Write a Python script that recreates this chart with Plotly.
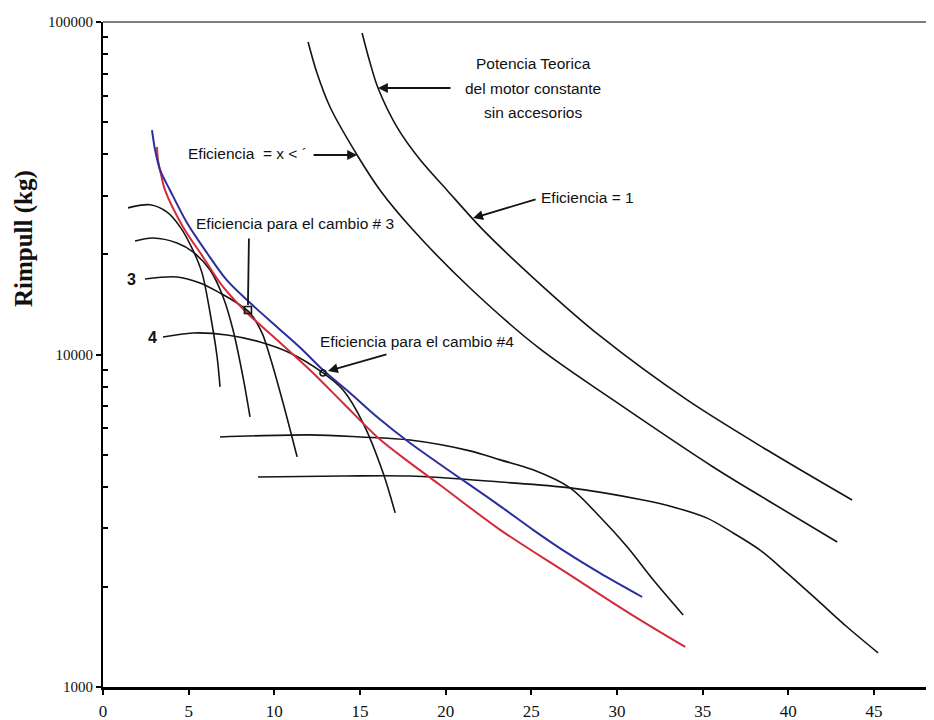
import plotly.graph_objects as go

# ---------------- data ----------------
# Theoretical constant-power curve (Eficiencia = 1)
ef1_x = [15.12, 15.59, 16.05, 17.16, 18.51, 20.08, 22.18, 25.51, 29.01, 34.09, 38.76, 43.72]
ef1_y = [92700, 75300, 63300, 48300, 38500, 31200, 23700, 16290, 11370, 7300, 5160, 3650]

# Curve with efficiency x < 1
efx_x = [11.97, 12.49, 13.25, 14.83, 16.17, 18.10, 21.42, 25.51, 29.77, 35.61, 38.76, 42.85]
efx_y = [87100, 70200, 55500, 39800, 31200, 23680, 15850, 10390, 7300, 4588, 3651, 2730]

# Blue envelope
blue_x = [2.86, 3.04, 3.33, 3.91, 4.90, 6.07, 7.24, 8.58, 10.16, 11.50, 12.84, 14.42, 16.00, 17.92, 23.18, 25.10, 27.09, 29.01, 31.47]
blue_y = [47300, 41200, 35900, 31200, 24900, 20200, 16700, 14300, 12100, 10500, 8980, 7660, 6490, 5420, 3500, 2970, 2530, 2200, 1865]

# Red envelope
red_x = [3.15, 3.21, 3.39, 3.62, 4.67, 5.84, 7.01, 8.41, 10.16, 12.08, 14.01, 16.00, 17.92, 19.67, 23.18, 27.09, 30.94, 33.98]
red_y = [42100, 38500, 34700, 31200, 24200, 19650, 15960, 13330, 11060, 8980, 7150, 5650, 4720, 4050, 2970, 2200, 1640, 1320]

# Gear rimpull curves
g1_x = [1.46, 2.74, 3.74, 4.50, 5.25, 5.78, 6.25, 6.66, 6.83]
g1_y = [27600, 28200, 26800, 24200, 20600, 17600, 13330, 9830, 7990]

g2_x = [1.87, 2.92, 4.32, 5.25, 6.25, 7.01, 7.59, 8.17, 8.58]
g2_y = [21950, 22400, 21640, 20340, 17950, 14890, 11850, 8560, 6490]

g3_x = [2.45, 4.32, 5.66, 6.83, 7.82, 8.58, 9.28, 9.75, 10.51, 11.33]
g3_y = [16870, 17110, 16410, 15310, 14280, 13330, 11610, 9830, 7150, 4920]

g4_x = [3.50, 5.25, 7.24, 9.17, 10.92, 12.84, 14.01, 15.18, 16.35, 17.05]
g4_y = [11290, 11610, 11450, 10900, 10100, 8800, 7820, 6220, 4400, 3340]

g5_x = [6.83, 12.08, 15.00, 17.92, 21.42, 23.18, 25.10, 27.26, 29.01, 30.59, 32.11, 33.86]
g5_y = [5650, 5730, 5650, 5530, 5130, 4820, 4500, 3970, 3245, 2640, 2100, 1646]

g6_x = [9.05, 14.01, 17.92, 23.18, 27.26, 31.52, 33.27, 35.26, 36.78, 38.35, 39.93, 41.68, 43.43, 45.24]
g6_y = [4280, 4310, 4310, 4135, 3970, 3650, 3480, 3220, 2905, 2580, 2200, 1827, 1515, 1266]

# Efficiency points for gear changes
pt3_x, pt3_y = [8.46], [13610]
pt4_x, pt4_y = [12.84], [8800]

x_ticks = [0, 5, 10, 15, 20, 25, 30, 35, 40, 45]
y_ticks = [1000, 10000, 100000]
y_tick_text = ["1000", "10000", "100000"]
y_minor = [2000, 3000, 4000, 5000, 6000, 7000, 8000, 9000,
           20000, 30000, 40000, 50000, 60000, 70000, 80000, 90000]

# ---------------- figure ----------------
fig = go.Figure()

def add_line(x, y, color, width):
    fig.add_trace(go.Scatter(x=x, y=y, mode="lines",
                             line=dict(color=color, width=width, shape="spline", smoothing=0.9),
                             hoverinfo="skip", showlegend=False))

BLACK = "#141414"
for xs, ys in [(ef1_x, ef1_y), (efx_x, efx_y), (g1_x, g1_y), (g2_x, g2_y), (g3_x, g3_y),
               (g4_x, g4_y), (g5_x, g5_y), (g6_x, g6_y)]:
    add_line(xs, ys, BLACK, 1.6)
add_line(red_x, red_y, "#d42a3a", 2)
add_line(blue_x, blue_y, "#2b2f9e", 2)

fig.add_trace(go.Scatter(x=pt3_x, y=pt3_y, mode="markers",
                         marker=dict(symbol="square-open", size=7, color=BLACK, line=dict(width=1.6)),
                         hoverinfo="skip", showlegend=False))
fig.add_trace(go.Scatter(x=pt4_x, y=pt4_y, mode="markers",
                         marker=dict(symbol="circle-open", size=6, color=BLACK, line=dict(width=1.6)),
                         hoverinfo="skip", showlegend=False))

LAB_FONT = dict(family="Liberation Sans, Arial, sans-serif", size=15.5, color="#111111")

def text(x, ylog, s, anchor="center", size=None):
    f = dict(LAB_FONT)
    if size:
        f["size"] = size
    fig.add_annotation(x=x, y=ylog, xref="x", yref="y", text=s, showarrow=False,
                       xanchor=anchor, yanchor="middle", font=f)

def arrow(x, ylog, ax, ay, head=2):
    fig.add_annotation(x=x, y=ylog, xref="x", yref="y", text="", showarrow=True,
                       ax=ax, ay=ay, arrowhead=head, arrowsize=1.1, arrowwidth=1.8,
                       arrowcolor=BLACK)

# Text labels
text(25.1, 4.8767, "Potencia Teorica")
text(25.1, 4.8015, "del motor constante")
text(25.1, 4.7293, "sin accesorios")
arrow(16.05, 4.8015, 74, 0)

text(8.46, 4.606, "Eficiencia  = x < ´")
arrow(14.83, 4.600, -45, 0)

text(28.25, 4.4707, "Eficiencia = 1")
arrow(21.6, 4.4105, 64, -19)

text(11.21, 4.3925, "Eficiencia para el cambio # 3")
arrow(8.46, 4.1489, 1, -68, head=0)

text(12.55, 4.0406, "Eficiencia para el cambio #4", anchor="left")
arrow(13.13, 3.9504, 60, -17)

text(1.69, 4.2241, "<b>3</b>", size=16)
text(2.86, 4.0526, "<b>4</b>", size=16)

# Y-axis title
fig.add_annotation(xref="paper", yref="paper", x=-0.095, y=0.6737, text="<b>Rimpull (kg)</b>",
                   textangle=-90, showarrow=False, xanchor="center", yanchor="middle",
                   font=dict(family="Liberation Serif, Times New Roman, serif", size=25, color="#111111"))

# Top border line
fig.add_shape(type="line", xref="paper", yref="paper", x0=0, x1=1, y0=1, y1=1,
              line=dict(color="#555555", width=1.5))

# The page body adds an 8 px offset, so the figure is 8 px smaller and margins shifted.
fig.update_layout(
    width=926, height=712,
    margin=dict(l=95, r=0, t=14, b=33),
    paper_bgcolor="white", plot_bgcolor="white",
    showlegend=False,
    xaxis=dict(range=[0, 48.5], tickvals=x_ticks, ticks="outside", ticklen=5, tickwidth=2,
               tickcolor="black", showline=True, linecolor="black", linewidth=2.5,
               showgrid=False, zeroline=False, ticklabelstandoff=2, automargin=False,
               tickfont=dict(family="Liberation Serif, Times New Roman, serif", size=17, color="#111111")),
    yaxis=dict(type="log", range=[3, 5], tickvals=y_ticks, ticktext=y_tick_text,
               ticks="outside", ticklen=5, tickwidth=2, tickcolor="black", automargin=False,
               showline=True, linecolor="black", linewidth=2, showgrid=False, zeroline=False,
               minor=dict(tickvals=y_minor, ticks="inside", ticklen=5, tickwidth=2, tickcolor="black",
                          showgrid=False),
               tickfont=dict(family="Liberation Serif, Times New Roman, serif", size=15, color="#111111")),
)

fig.write_html("out.html")
